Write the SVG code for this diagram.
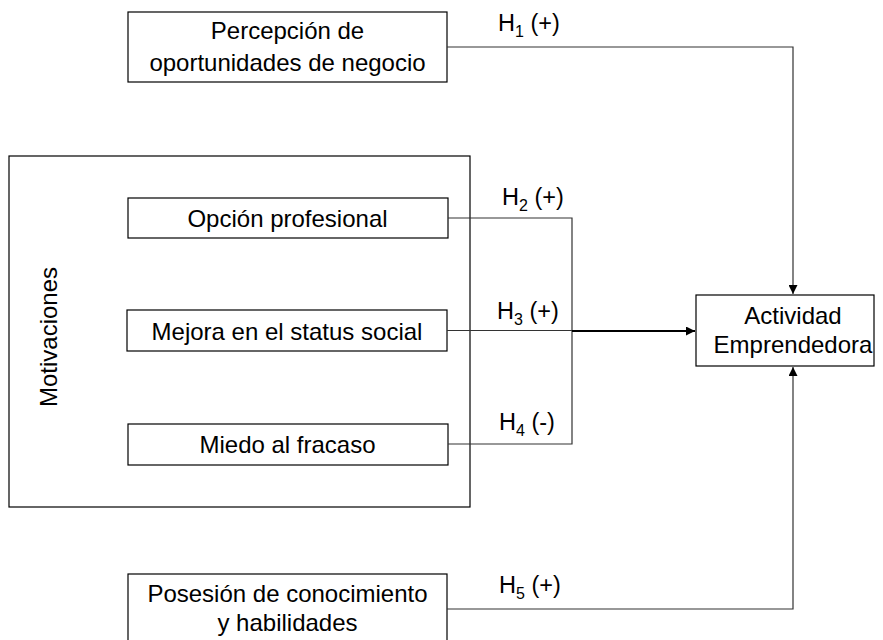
<svg xmlns="http://www.w3.org/2000/svg" width="883" height="640" viewBox="0 0 883 640">
<style>
.box{fill:#fff;stroke:#000;stroke-width:1.2}
.t{font-family:"Liberation Sans",Arial,sans-serif;font-size:24px;fill:#000;text-anchor:middle}
.h{font-family:"Liberation Sans",Arial,sans-serif;font-size:23.5px;fill:#000}
.sub{font-size:16px}
.ln{fill:none;stroke:#333;stroke-width:1.2}
.ar{fill:none;stroke:#000;stroke-width:2}
</style>
<defs>
<marker id="arr" viewBox="0 0 10 10" refX="10" refY="5" markerWidth="9" markerHeight="9" markerUnits="userSpaceOnUse" orient="auto">
<path d="M0,0 L10,5 L0,10 Z" fill="#000"/>
</marker>
</defs>
<rect width="883" height="640" fill="#fff"/>
<g id="motivaciones">
<rect class="box" x="9" y="156" width="461" height="351"/>
<text class="t" transform="translate(57,337) rotate(-90)">Motivaciones</text>
</g>
<g id="percepcion">
<rect class="box" x="128" y="12" width="319" height="70"/>
<text class="t" x="287.5" y="39">Percepción de</text>
<text class="t" x="287.5" y="71">oportunidades de negocio</text>
</g>
<g id="opcion">
<rect class="box" x="128" y="198" width="320" height="40"/>
<text class="t" x="287.5" y="227">Opción profesional</text>
</g>
<g id="mejora">
<rect class="box" x="127" y="310" width="320" height="41"/>
<text class="t" x="287" y="340">Mejora en el status social</text>
</g>
<g id="miedo">
<rect class="box" x="128" y="424" width="320" height="41"/>
<text class="t" x="287.5" y="453">Miedo al fracaso</text>
</g>
<g id="actividad">
<rect class="box" x="696" y="295" width="178" height="71"/>
<text class="t" x="793" y="324">Actividad</text>
<text class="t" x="793" y="353">Emprendedora</text>
</g>
<g id="posesion">
<rect class="box" x="128" y="574" width="319" height="80"/>
<text class="t" x="287.5" y="602">Posesión de conocimiento</text>
<text class="t" x="287.5" y="631">y habilidades</text>
</g>
<g id="connectors">
<polyline class="ln" points="447,47 793,47 793,294" marker-end="url(#arr)"/>
<polyline class="ln" points="447,609 793,609 793,367" marker-end="url(#arr)"/>
<polyline class="ln" points="448,218 572,218 572,444 448,444"/>
<line class="ln" x1="447" y1="330.5" x2="572" y2="330.5"/>
<line class="ar" x1="572" y1="331" x2="695" y2="331" marker-end="url(#arr)"/>
</g>
<g id="labels">
<text class="h" x="498" y="31">H<tspan class="sub" dy="6">1</tspan><tspan dy="-6"> (+)</tspan></text>
<text class="h" x="502" y="205">H<tspan class="sub" dy="6">2</tspan><tspan dy="-6"> (+)</tspan></text>
<text class="h" x="497" y="319">H<tspan class="sub" dy="6">3</tspan><tspan dy="-6"> (+)</tspan></text>
<text class="h" x="499" y="430">H<tspan class="sub" dy="6">4</tspan><tspan dy="-6"> (-)</tspan></text>
<text class="h" x="499" y="593">H<tspan class="sub" dy="6">5</tspan><tspan dy="-6"> (+)</tspan></text>
</g>
</svg>
